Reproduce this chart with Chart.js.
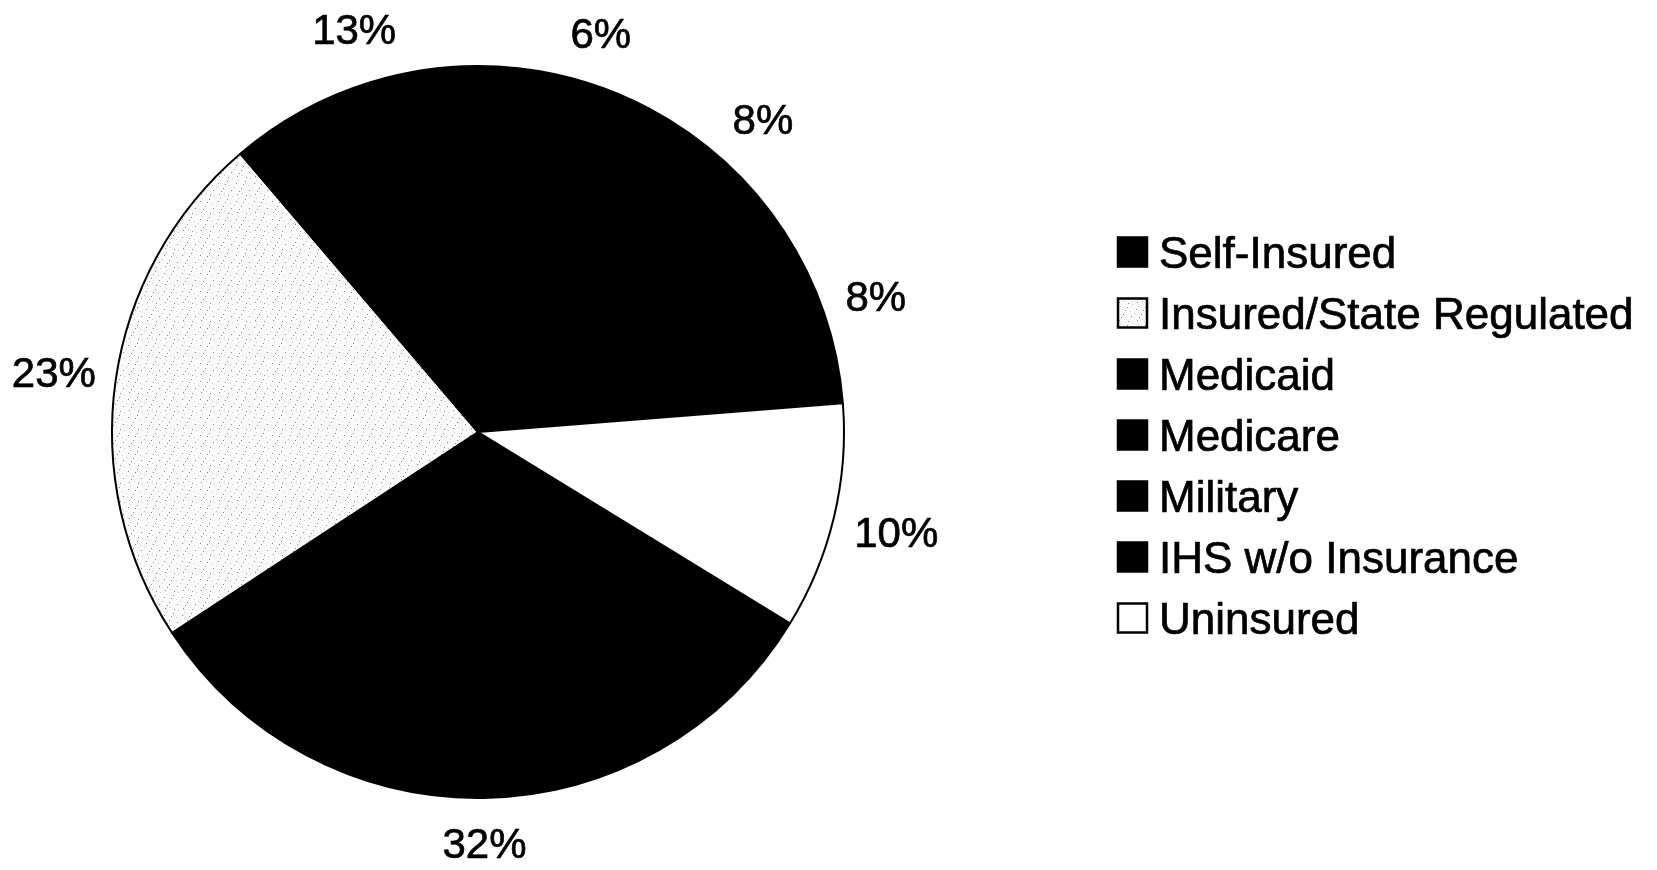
<!DOCTYPE html>
<html>
<head>
<meta charset="utf-8">
<script src="https://cdn.jsdelivr.net/npm/chart.js"></script>
<style>
    html, body { margin: 0; padding: 0; background: #fff; }
    #payer-chart { display: block; }
</style>
</head>
<body>
<canvas id="payer-chart" width="1657" height="870"></canvas>
<script>
// Payer categories, in legend order (also clockwise slice order)
const CATEGORIES = [
    'Self-Insured',
    'Insured/State Regulated',
    'Medicaid',
    'Medicare',
    'Military',
    'IHS w/o Insurance',
    'Uninsured'
];

// Share of each payer, percent
const SHARES = [32, 23, 13, 6, 8, 8, 10];

const FONT_FAMILY = '"Liberation Sans", Arial, Helvetica, sans-serif';
const LABEL_FONT_SIZE = 42;
const LEGEND_FONT_SIZE = 44;

// Light stippled fill used for the insured/state regulated slice
function makeStipple() {
    const c = document.createElement('canvas');
    c.width = 18;
    c.height = 18;
    const g = c.getContext('2d');
    g.fillStyle = '#fafafa';
    g.fillRect(0, 0, 18, 18);
    g.fillStyle = '#8a8a8a';
    [[2, 3], [11, 1], [7, 8], [15, 10], [3, 14], [12, 15], [9, 4], [5, 11]].forEach(([x, y]) => {
        g.fillRect(x, y, 1, 1);
    });
    g.fillStyle = '#c8c8c8';
    [[0, 7], [14, 5], [8, 13], [16, 16], [4, 0]].forEach(([x, y]) => {
        g.fillRect(x, y, 1, 1);
    });
    return c;
}

const ctx = document.getElementById('payer-chart').getContext('2d');
const stipple = ctx.createPattern(makeStipple(), 'repeat');

const SLICE_COLORS = ['#000000', stipple, '#000000', '#000000', '#000000', '#000000', '#ffffff'];

// scanned print looks a bit heavy, so fill + thin stroke
function heavyText(c, text, x, y) {
    c.fillText(text, x, y);
    c.lineWidth = 0.7;
    c.strokeStyle = '#000';
    c.strokeText(text, x, y);
}

// Percent labels placed just outside each slice
const outsideLabels = {
    id: 'outsideLabels',
    afterDatasetsDraw(chart) {
        const c = chart.ctx;
        const meta = chart.getDatasetMeta(0);
        const halfH = 27;
        const gap = 17;
        c.save();
        c.font = `${LABEL_FONT_SIZE}px ${FONT_FAMILY}`;
        c.fillStyle = '#000';
        c.textAlign = 'center';
        c.textBaseline = 'alphabetic';
        meta.data.forEach((arc, i) => {
            const { x, y, startAngle, endAngle, outerRadius } =
                arc.getProps(['x', 'y', 'startAngle', 'endAngle', 'outerRadius'], true);
            const mid = (startAngle + endAngle) / 2;
            const text = `${SHARES[i]}%`;
            const halfW = c.measureText(text).width / 2;
            const dist = outerRadius + gap +
                Math.abs(Math.cos(mid)) * halfW + Math.abs(Math.sin(mid)) * halfH;
            const lx = x + Math.cos(mid) * dist;
            const ly = y + Math.sin(mid) * dist;
            heavyText(c, text, lx, ly + LABEL_FONT_SIZE * 0.716 / 2);
        });
        c.restore();
    }
};

// Legend down the right-hand side
const sideLegend = {
    id: 'sideLegend',
    afterDraw(chart) {
        const c = chart.ctx;
        const left = 1118;
        const top = 252;
        const step = 61;
        const box = 29;
        c.save();
        c.font = `${LEGEND_FONT_SIZE}px ${FONT_FAMILY}`;
        c.textAlign = 'left';
        c.textBaseline = 'alphabetic';
        CATEGORIES.forEach((name, i) => {
            const cy = top + i * step;
            c.fillStyle = SLICE_COLORS[i];
            c.fillRect(left, cy - box / 2, box, box);
            c.lineWidth = 2.5;
            c.strokeStyle = '#000';
            c.strokeRect(left, cy - box / 2, box, box);
            c.fillStyle = '#000';
            heavyText(c, name, left + 41, cy + LEGEND_FONT_SIZE * 0.716 / 2);
        });
        c.restore();
    }
};

new Chart(ctx, {
    type: 'pie',
    data: {
        labels: CATEGORIES,
        datasets: [{
            data: SHARES,
            backgroundColor: SLICE_COLORS,
            borderColor: '#000',
            borderWidth: 2
        }]
    },
    options: {
        responsive: false,
        animation: false,
        rotation: 121.5,
        layout: {
            padding: { left: 111, right: 812, top: 64, bottom: 70 }
        },
        plugins: {
            legend: { display: false },
            tooltip: { enabled: false }
        }
    },
    plugins: [outsideLabels, sideLegend]
});
</script>
</body>
</html>
